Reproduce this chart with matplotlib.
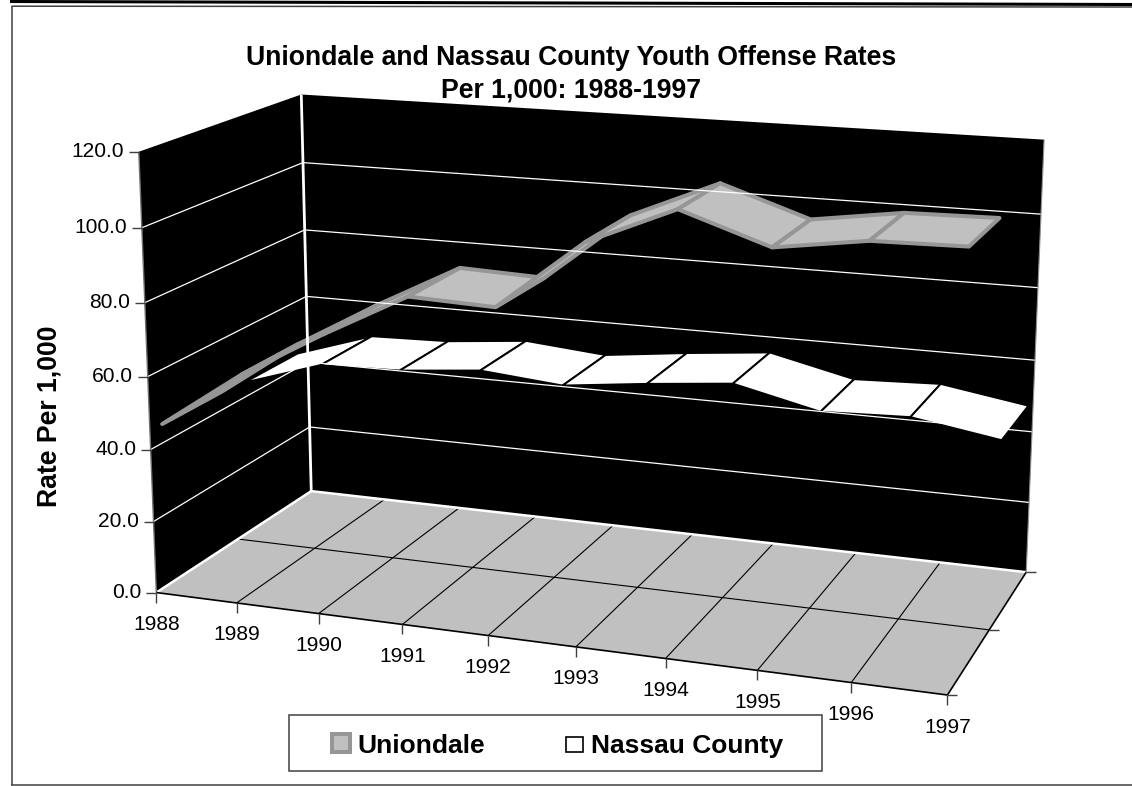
import numpy as np
import matplotlib
matplotlib.use('Agg')
import matplotlib.pyplot as plt
from matplotlib.patches import Polygon, Rectangle

plt.rcParams['font.family'] = ['Liberation Sans', 'DejaVu Sans']

years = ['1988', '1989', '1990', '1991', '1992', '1993', '1994', '1995', '1996', '1997']
value_ticks = [0, 20, 40, 60, 80, 100, 120]

uniondale = [45.2, 61.0, 74.0, 86.0, 85.2, 103.7, 113.7, 106.0, 109.4, 109.8]
nassau = [44.3, 51.6, 52.2, 54.4, 52.4, 55.1, 57.4, 52.0, 52.9, 49.1]

# depth bands of the two ribbons, 0 at the front of the floor and 1 at the back
uniondale_depth = (0.07, 0.43)
nassau_depth = (0.57, 0.93)

# screen positions of the chart box, used to fit the camera
front_x = [156, 238, 320, 403, 489, 575, 665, 757, 851, 947]
back_x = [311, 383, 458, 534, 613, 692, 774, 856, 940, 1027]
front_left = [(156, 592.7), (153.4, 521.7), (151, 450), (148, 376), (144.4, 302), (141.2, 227), (138.3, 151.7)]
back_left = [(311, 491), (310.5, 428), (309, 363), (307, 296), (305.4, 230), (303, 162), (301, 95)]
back_right = [(1027, 572), (1029, 503), (1032, 432), (1035, 360), (1038, 287), (1041, 214), (1044, 141)]

world = []
screen = []
for i in range(10):
    world.append((i, 0, 0))
    screen.append((front_x[i], 592.7 + (front_x[i] - 156) * 0.1293))
    world.append((i, 1, 0))
    screen.append((back_x[i], 491 + (back_x[i] - 311) * 0.1131))
for j, v in enumerate(value_ticks):
    world.append((0, 0, v)); screen.append(front_left[j])
    world.append((0, 1, v)); screen.append(back_left[j])
    world.append((9, 1, v)); screen.append(back_right[j])

# least squares fit of a 3x4 projection matrix
rows = []
rhs = []
for (x, d, z), (u, v) in zip(world, screen):
    rows.append([x, d, z, 1, 0, 0, 0, 0, -u * x, -u * d, -u * z])
    rhs.append(u)
    rows.append([0, 0, 0, 0, x, d, z, 1, -v * x, -v * d, -v * z])
    rhs.append(v)
cam = np.append(np.linalg.lstsq(np.array(rows, float), np.array(rhs, float), rcond=None)[0], 1).reshape(3, 4)


def project(x, d, z):
    p = cam @ np.array([x, d, z, 1.0])
    return p[0] / p[2], p[1] / p[2]


fig = plt.figure(figsize=(11.32, 7.86), dpi=100)
ax = fig.add_axes([0, 0, 1, 1])
ax.set_xlim(0, 1132)
ax.set_ylim(786, 0)
ax.axis('off')


def face(corners, **kw):
    ax.add_patch(Polygon([project(*c) for c in corners], closed=True, **kw))


def seg(a, b, **kw):
    pa, pb = project(*a), project(*b)
    ax.plot([pa[0], pb[0]], [pa[1], pb[1]], solid_capstyle='butt', **kw)


def tick(a, dx, dy, **kw):
    p = project(*a)
    ax.plot([p[0], p[0] + dx], [p[1], p[1] + dy], solid_capstyle='butt', **kw)
    return p


# page rules
ax.plot([10, 1132], [1.5, 4.5], color='black', lw=2.2, solid_capstyle='butt')
ax.plot([11.5, 1132, ], [6.2, 7], color='#404040', lw=1.1, solid_capstyle='butt')
ax.plot([11.5, 11.5], [5.7, 785], color='#404040', lw=1.1, solid_capstyle='butt')
ax.plot([11, 1132], [785, 785], color='#404040', lw=1.1, solid_capstyle='butt')

# walls and floor
face([(0, 0, 0), (0, 1, 0), (0, 1, 120), (0, 0, 120)], fc='black', ec='none')
face([(0, 1, 0), (9, 1, 0), (9, 1, 120), (0, 1, 120)], fc='black', ec='none')
face([(0, 0, 0), (9, 0, 0), (9, 1, 0), (0, 1, 0)], fc='#C0C0C0', ec='none')
for v in value_ticks[1:-1]:
    seg((0, 0, v), (0, 1, v), color='white', lw=0.9)
    seg((0, 1, v), (9, 1, v), color='white', lw=0.9)

for i in range(1, 9):
    seg((i, 0, 0), (i, 1, 0), color='black', lw=0.8)
seg((0, 0.5, 0), (9, 0.5, 0), color='black', lw=0.8)
seg((0, 0, 0), (0, 1, 0), color='white', lw=1.8)
seg((0, 1, 0), (9, 1, 0), color='white', lw=1.8)
seg((0, 1, 0), (0, 1, 120), color='white', lw=2.0)
seg((0, 0, 0), (0, 0, 120), color='#707070', lw=1.0)
seg((9, 1, 0), (9, 1, 120), color='#909090', lw=0.8)
seg((0, 0, 0), (9, 0, 0), color='black', lw=1.2)
seg((9, 0, 0), (9, 1, 0), color='black', lw=1.2)

# axis ticks and labels
for v in value_ticks:
    p = tick((0, 0, v), -10, 0, color='#404040', lw=1.0)
    ax.text(p[0] - 14.5, p[1], f'{v:.1f}', ha='right', va='center', fontsize=15.1)
for i, label in enumerate(years):
    p = tick((i, 0, 0), 0, 10, color='#404040', lw=1.0)
    ax.text(p[0], p[1] + 32, label, ha='center', va='center', fontsize=15.1)
for d in (0, 0.5, 1):
    tick((9, d, 0), 10, 0, color='#404040', lw=1.0)

# ribbons, rear series first
series = [(nassau, nassau_depth, 'white', 'black', 1.4),
          (uniondale, uniondale_depth, '#C0C0C0', '#969696', 2.9)]
for values, (d0, d1), fill, edge, width in series:
    for k in range(len(values) - 1):
        pts = [(k, d0, values[k]), (k, d1, values[k]), (k + 1, d1, values[k + 1]), (k + 1, d0, values[k + 1])]
        face(pts, fc=fill, ec=edge, lw=width, joinstyle='round')

# title and axis label
ax.text(571, 65, 'Uniondale and Nassau County Youth Offense Rates', ha='center', va='baseline',
        fontsize=19.2, fontweight='bold')
ax.text(571, 97.7, 'Per 1,000: 1988-1997', ha='center', va='baseline', fontsize=19.2, fontweight='bold')
ax.text(50, 416, 'Rate Per 1,000', rotation=90, ha='center', va='center', fontsize=19.2, fontweight='bold')

# legend
ax.add_patch(Rectangle((289, 715), 533, 55.7, fc='white', ec='#404040', lw=1.1))
ax.add_patch(Rectangle((331.5, 733.5), 18, 18, fc='#C0C0C0', ec='#969696', lw=2.9))
ax.add_patch(Rectangle((566, 736.5), 17, 15.5, fc='white', ec='black', lw=1.2))
ax.text(357, 752.7, 'Uniondale', ha='left', va='baseline', fontsize=19, fontweight='bold')
ax.text(591, 752.7, 'Nassau County', ha='left', va='baseline', fontsize=19, fontweight='bold')

fig.savefig('out.png', dpi=100)
